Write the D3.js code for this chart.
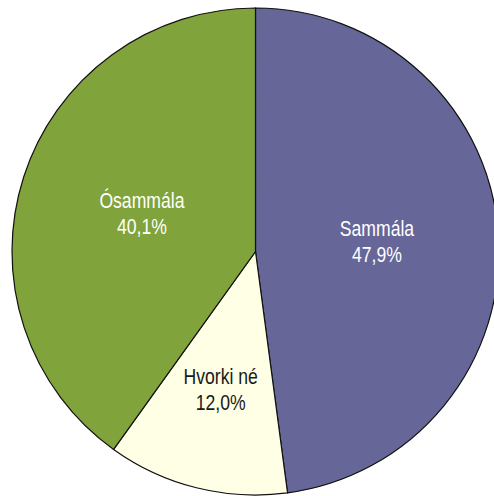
<!DOCTYPE html>
<html>
<head>
<meta charset="utf-8">
<script src="https://cdn.jsdelivr.net/npm/d3@7"></script>
<style>
  html, body { margin: 0; padding: 0; background: #ffffff; }
  svg { display: block; }
</style>
</head>
<body>
<svg id="chart" width="494" height="496"></svg>
<script>
// Survey answers, share of respondents (%)
const categories = ["Sammála", "Hvorki né", "Ósammála"];
const values = [47.9, 12.0, 40.1];
const valueLabels = ["47,9%", "12,0%", "40,1%"];
const colors = ["#666699", "#FFFFE6", "#80A33B"];
const textColors = ["#ffffff", "#1a1a1a", "#ffffff"];
const labelRadius = [0.50, 0.59, 0.49];

const width = 494, height = 496;
const cx = 255.5, cy = 251.5, radius = 243.5;

const svg = d3.select("#chart");
const g = svg.append("g").attr("transform", `translate(${cx},${cy})`);

const data = categories.map((c, i) => ({ name: c, value: values[i], i }));

const pie = d3.pie().value(d => d.value).sort(null);
const arc = d3.arc().innerRadius(0).outerRadius(radius);

const arcs = pie(data);

g.selectAll("path.slice")
  .data(arcs)
  .join("path")
  .attr("class", "slice")
  .attr("d", arc)
  .attr("fill", d => colors[d.data.i])
  .attr("stroke", "#111")
  .attr("stroke-width", 1.2);

// Condensed label text: a narrow sans face emulated with a horizontal squeeze
const labels = g.selectAll("text.lbl")
  .data(arcs)
  .join("text")
  .attr("class", "lbl")
  .attr("transform", d => {
    const r = radius * labelRadius[d.data.i];
    const a = (d.startAngle + d.endAngle) / 2;
    return `translate(${r * Math.sin(a)},${-r * Math.cos(a)}) scale(0.8,1)`;
  })
  .attr("text-anchor", "middle")
  .attr("font-family", "'Liberation Sans Narrow', 'Liberation Sans', Arial, sans-serif")
  .attr("font-size", 22)
  .attr("fill", d => textColors[d.data.i]);

labels.append("tspan")
  .attr("x", 0)
  .attr("y", -7)
  .text(d => d.data.name);

labels.append("tspan")
  .attr("x", 0)
  .attr("y", 19)
  .text(d => valueLabels[d.data.i]);
</script>
</body>
</html>
